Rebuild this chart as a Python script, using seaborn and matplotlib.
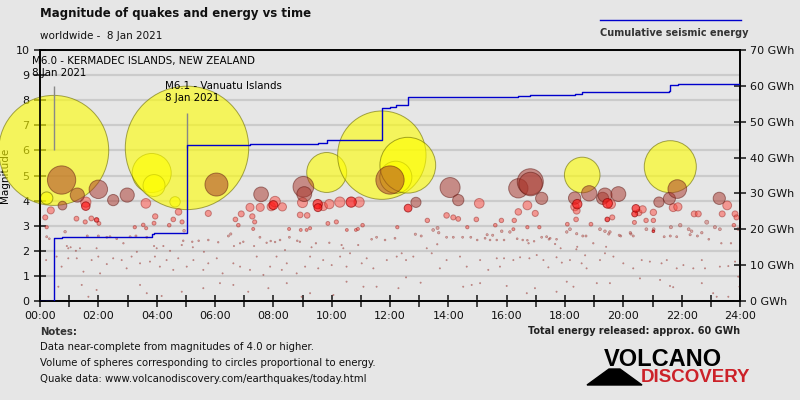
import numpy as np
import pandas as pd
import matplotlib
matplotlib.use('Agg')
import matplotlib.pyplot as plt
import seaborn as sns
from matplotlib.patches import Polygon

# quakes of 8 Jan 2021: (hour UTC, magnitude), grouped by marker colour
yellow = [(0.47, 6.0), (0.23, 4.1), (3.83, 5.1), (3.91, 4.6), (4.63, 3.95), (5.04, 6.1),
          (9.83, 5.12), (11.72, 5.81), (12.20, 4.93), (12.61, 5.41), (18.59, 5.02), (21.61, 5.35)]

brown = [(0.74, 4.82), (0.77, 3.80), (1.28, 4.22), (2.00, 4.45), (2.51, 4.02), (2.99, 4.22),
         (6.05, 4.64), (7.58, 4.25), (9.03, 4.55), (9.06, 4.26), (12.00, 4.82), (12.89, 3.93),
         (14.06, 4.52), (14.34, 4.02), (16.40, 4.49), (16.81, 4.75), (16.82, 4.66), (17.20, 4.09),
         (18.33, 4.10), (18.83, 4.29), (19.29, 4.09), (19.37, 4.22), (19.83, 4.26), (21.22, 3.94),
         (21.58, 4.08), (21.85, 4.46), (23.29, 4.09)]

red = [(1.57, 3.78), (1.94, 3.23), (8.00, 3.82), (9.52, 3.86), (9.53, 3.72),
       (10.67, 3.94), (12.62, 3.70), (18.42, 3.86), (19.45, 3.25), (19.46, 3.89),
       (20.39, 3.47), (20.43, 3.69), (21.03, 2.78)]

pink = [(0.18, 3.33), (0.23, 2.94), (0.37, 3.61), (1.25, 3.28), (1.55, 3.15), (1.57, 3.94),
        (1.76, 3.29), (2.02, 3.09), (3.25, 2.94), (3.54, 3.03), (3.63, 3.89), (3.64, 2.90),
        (3.91, 3.10), (3.95, 3.37), (4.43, 3.02), (4.57, 3.25), (4.75, 3.55), (4.87, 3.15),
        (5.77, 3.49), (6.70, 3.25), (6.80, 3.02), (6.90, 3.47), (7.20, 3.73), (7.28, 3.37),
        (7.31, 2.87), (7.36, 3.15), (7.55, 3.73), (7.93, 3.76), (8.06, 3.96), (8.31, 3.75),
        (8.54, 2.87), (8.92, 3.43), (8.94, 2.83), (9.00, 3.92), (9.14, 2.83), (9.16, 3.41),
        (9.26, 2.90), (9.71, 3.77), (9.87, 3.09), (9.92, 3.86), (10.16, 3.15), (10.28, 3.94),
        (10.52, 2.83), (10.83, 2.83), (10.90, 2.87), (10.94, 3.94), (11.06, 3.02), (12.25, 2.94),
        (13.28, 3.21), (13.94, 3.41), (14.17, 3.33), (14.34, 3.27), (14.65, 2.94), (14.96, 3.25),
        (15.06, 3.89), (15.61, 3.02), (15.82, 3.21), (16.23, 2.86), (16.26, 3.21), (16.40, 3.55),
        (16.71, 3.81), (16.71, 2.94), (16.98, 3.49), (17.12, 2.94), (18.08, 3.06), (18.34, 3.76),
        (18.38, 3.25), (18.40, 3.60), (18.89, 3.06), (19.57, 3.86), (19.62, 3.33), (20.38, 3.13),
        (20.53, 3.52), (20.66, 3.65), (20.78, 3.21), (21.03, 3.53), (21.03, 3.21), (21.71, 3.72),
        (21.87, 3.75), (22.43, 3.47), (22.57, 3.47), (23.39, 3.47), (23.56, 3.81), (23.79, 3.02),
        (23.83, 3.47), (23.88, 3.33)]

small = [(0.86, 2.76), (0.23, 2.56), (0.32, 2.48), (2.40, 2.56), (2.00, 2.59), (2.63, 2.48),
         (3.09, 2.56), (3.29, 2.59), (3.66, 2.54), (5.77, 2.43), (6.11, 2.34), (5.22, 2.36),
         (4.91, 2.40), (0.92, 2.19), (0.97, 2.10), (1.05, 2.14), (1.23, 2.00), (1.37, 2.10),
         (1.62, 2.59), (1.94, 2.10), (2.29, 2.54), (2.86, 2.30), (3.32, 1.96), (3.91, 2.19),
         (4.00, 2.10), (4.23, 2.19), (4.46, 2.00), (4.86, 2.23), (4.94, 2.80), (5.24, 2.14),
         (5.44, 2.40), (5.62, 1.96), (6.46, 2.59), (6.54, 2.67), (6.65, 2.19), (6.86, 2.30),
         (6.97, 2.36), (7.34, 2.19), (7.54, 2.54), (7.77, 2.32), (7.91, 2.39), (8.06, 2.35),
         (8.23, 2.43), (8.40, 2.03), (8.55, 2.54), (8.82, 2.40), (8.91, 2.36), (9.31, 2.14),
         (9.46, 2.30), (9.92, 2.32), (10.34, 2.23), (10.40, 2.10), (10.63, 1.90), (10.91, 2.23),
         (11.37, 2.46), (11.54, 2.54), (11.83, 2.43), (12.17, 2.50),
         (0.21, 1.63), (0.57, 1.77), (0.74, 1.37), (0.97, 1.70), (1.26, 1.70), (1.49, 1.17),
         (1.77, 1.63), (2.00, 1.77), (2.06, 1.10), (2.29, 1.47), (2.51, 1.70), (2.80, 1.63),
         (2.97, 1.30), (3.14, 1.77), (3.43, 1.50), (3.77, 1.57), (3.94, 1.77), (4.11, 1.37),
         (4.34, 1.63), (4.57, 1.24), (4.74, 1.70), (5.03, 1.37), (5.26, 1.63), (5.60, 1.24),
         (5.77, 1.50), (6.06, 1.70), (6.26, 1.10), (6.63, 1.50), (6.86, 1.37), (7.20, 1.24),
         (7.43, 1.77), (7.66, 1.04), (7.89, 1.37), (8.11, 1.77), (8.29, 1.24), (8.46, 1.50),
         (8.80, 1.10), (9.09, 1.37), (9.26, 1.77), (9.54, 1.30), (9.71, 1.63), (10.00, 1.43),
         (10.29, 1.77), (10.51, 1.37), (11.03, 1.50), (11.20, 1.70), (11.43, 1.30), (11.89, 1.63),
         (12.23, 1.77),
         (0.63, 0.57), (1.43, 0.64), (1.66, 0.17), (1.94, 0.44), (3.43, 0.64), (3.66, 0.31),
         (4.17, 0.20), (4.86, 0.37), (5.60, 0.51), (6.17, 0.71), (6.63, 0.64), (7.14, 0.37),
         (7.83, 0.51), (8.46, 0.71), (8.97, 0.17), (9.26, 0.31), (10.06, 0.24), (10.51, 0.77),
         (11.09, 0.57), (11.54, 0.57), (12.29, 0.51),
         (13.48, 2.83), (13.63, 2.91), (13.67, 2.72), (12.87, 2.66), (13.07, 2.59), (14.17, 2.54),
         (14.49, 2.54), (14.77, 2.54), (15.26, 2.50), (15.43, 2.43), (15.66, 2.43), (16.36, 2.48),
         (16.71, 2.42), (16.94, 2.38), (17.20, 2.54), (17.49, 2.50), (17.71, 2.46), (16.11, 2.75),
         (15.83, 2.78), (15.33, 2.64), (15.52, 2.62), (13.62, 2.26), (13.94, 2.54), (14.99, 2.43),
         (15.91, 2.43), (16.55, 2.43), (16.75, 2.30), (17.37, 2.56), (17.45, 2.46), (17.66, 2.27),
         (17.85, 2.10), (18.06, 2.75), (18.39, 2.06), (18.61, 2.59), (18.69, 1.82), (18.17, 2.86),
         (18.40, 2.68), (19.20, 2.86), (19.37, 2.78), (19.54, 2.75), (20.26, 2.67), (18.72, 2.59),
         (18.97, 2.30), (19.41, 2.16), (19.91, 2.59), (21.40, 2.56), (21.61, 2.59), (21.83, 2.56),
         (22.29, 2.64), (22.54, 2.59), (22.93, 2.46), (23.36, 2.30), (23.69, 2.30), (18.42, 2.16),
         (20.79, 2.86), (21.04, 2.86), (21.63, 2.94), (21.95, 3.02), (22.24, 2.86), (22.34, 2.78),
         (22.69, 2.72), (23.14, 2.94), (23.31, 2.86), (23.94, 2.87), (22.86, 3.14), (19.86, 2.62),
         (20.24, 2.72), (20.34, 2.59), (19.50, 2.67),
         (12.40, 1.90), (12.55, 1.63), (12.80, 1.77), (13.26, 2.10), (13.43, 1.90), (13.71, 1.30),
         (13.94, 1.63), (14.40, 1.77), (14.63, 1.37), (15.09, 1.63), (15.37, 1.24), (15.66, 1.70),
         (15.77, 1.37), (15.91, 1.70), (16.23, 1.63), (16.46, 1.74), (16.78, 1.70), (17.03, 1.83),
         (17.26, 1.63), (17.43, 1.34), (17.71, 1.74), (17.89, 1.53), (18.17, 1.63), (18.57, 1.50),
         (18.74, 1.30), (19.20, 1.63), (19.37, 1.90), (19.66, 1.77), (20.00, 1.50), (20.34, 1.30),
         (20.63, 1.63), (20.91, 1.57), (21.31, 1.50), (21.49, 1.63), (21.83, 1.30), (22.06, 1.43),
         (22.40, 1.30), (22.69, 1.63), (22.80, 1.30), (23.31, 1.37), (23.60, 1.39), (23.83, 1.57),
         (23.94, 0.97),
         (12.55, 0.94), (13.05, 0.73), (14.51, 0.57), (14.80, 0.64), (15.09, 0.71), (16.00, 0.60),
         (16.69, 0.31), (16.97, 0.51), (17.71, 0.37), (18.06, 0.77), (18.29, 0.57), (19.09, 0.71),
         (19.54, 0.71), (20.57, 0.90), (21.26, 0.84), (21.60, 0.60), (21.71, 0.55), (22.69, 0.71),
         (23.08, 0.31), (23.20, 0.17), (23.60, 0.17), (23.98, 0.57)]

hour_ticks = list(range(0, 25, 2))
hour_labels = ['%02d:00' % h for h in hour_ticks]
energy_ticks = list(range(0, 71, 10))

# marker styles per group: face, alpha, edge, edge width
styles = {
    'yellow': ('#ffff00', 0.6, '#6b6b00', 0.7),
    'small': ('#c86a64', 0.5, '#8a2c28', 0.45),
    'pink': ('#ff4a40', 0.5, '#9a2a26', 0.7),
    'brown': ('#a83228', 0.5, '#5c1510', 0.7),
    'red': ('#ff1010', 0.65, '#8a0000', 0.7),
}

frames = []
for name, pts in [('yellow', yellow), ('small', small), ('pink', pink),
                  ('brown', brown), ('red', red)]:
    d = pd.DataFrame(pts, columns=['hour', 'mag'])
    d['group'] = name
    frames.append(d)
df = pd.concat(frames, ignore_index=True)

# circle radius (px) ~ energy^(1/3), sphere volume proportional to energy
df['r_px'] = np.maximum(55 * 10 ** (0.5 * (df['mag'] - 6)), 0.65)
df['s'] = (2 * df['r_px'] * 0.72) ** 2

# cumulative energy, GWh
df['energy'] = 17.4 * 10 ** (1.5 * (df['mag'] - 6))
en = df.sort_values('hour')
cum_t = np.concatenate([[0], en['hour'].to_numpy(), [24]])
cum_e = np.concatenate([[0], en['energy'].cumsum().to_numpy(), [en['energy'].sum()]])

bg = '#e6e6e6'
plt.rcParams['font.family'] = ['DejaVu Sans']
fig = plt.figure(figsize=(8, 4), dpi=100, facecolor=bg)
ax = fig.add_axes([0.05, 0.2475, 0.875, 0.6275])
ax.set_facecolor(bg)

for name in ['yellow', 'small', 'pink', 'brown', 'red']:
    sub = df[df['group'] == name]
    fc, a, ec, lw = styles[name]
    sns.scatterplot(data=sub, x='hour', y='mag', s=sub['s'].to_numpy(), color=fc, alpha=a,
                    edgecolor=ec, linewidth=lw, ax=ax, legend=False, clip_on=False, zorder=3)

ax.set_xlim(0, 24)
ax.set_ylim(0, 10)
ax.set_yticks(range(0, 11))
ax.set_xticks(hour_ticks)
ax.set_xticklabels(hour_labels)
ax.set_xticks(range(0, 25), minor=True)
ax.grid(axis='y', color='#cbcbcb', lw=1.6, zorder=0)
ax.set_axisbelow(True)
ax.tick_params(axis='both', which='both', direction='inout', length=8, width=1.3,
               color='#333333', labelsize=8, labelcolor='#111111')
ax.set_xlabel('')
ax.set_ylabel('Magnitude', fontsize=7.5, labelpad=4)
for sp in ax.spines.values():
    sp.set_color('black')
    sp.set_linewidth(1.2)

ax2 = ax.twinx()
sns.lineplot(x=cum_t, y=cum_e, drawstyle='steps-post', color='#0000cc', lw=1,
             estimator=None, sort=False, ax=ax2, zorder=4)
ax2.set_ylim(0, 70)
ax2.set_yticks(energy_ticks)
ax2.set_yticklabels(['%d GWh' % v for v in energy_ticks])
ax2.tick_params(axis='y', direction='inout', length=8, width=1.3, color='#333333',
                labelsize=8, labelcolor='#111111')
for sp in ax2.spines.values():
    sp.set_color('black')
    sp.set_linewidth(1.2)

# labels for the two strongest quakes
big = df[df['group'] == 'yellow']
q1 = big[big['mag'] == 6.0].iloc[0]
q2 = big[big['mag'] == 6.1].iloc[0]
ax.text(-0.27, 9.75, 'M6.0 - KERMADEC ISLANDS, NEW ZEALAND\n8 Jan 2021', fontsize=7.4,
        va='top', ha='left', linespacing=1.25, zorder=5)
ax.vlines(q1['hour'], q1['mag'], 8.55, color='#888888', lw=1, zorder=5)
ax.text(4.3, 8.75, 'M6.1 - Vanuatu Islands\n8 Jan 2021', fontsize=7.4,
        va='top', ha='left', linespacing=1.25, zorder=5)
ax.vlines(q2['hour'], q2['mag'], 7.5, color='#888888', lw=1, zorder=5)

fig.text(40 / 800, 1 - 13 / 400, 'Magnitude of quakes and energy vs time', fontsize=8.5,
         fontweight='bold', va='center', color='#111111')
fig.text(40 / 800, 1 - 36 / 400, 'worldwide -  8 Jan 2021', fontsize=7.5, va='center',
         color='#111111')
fig.add_artist(plt.Line2D([600 / 800, 741 / 800], [1 - 20 / 400, 1 - 20 / 400],
                          color='#0000cc', lw=1))
fig.text(600 / 800, 1 - 33 / 400, 'Cumulative seismic energy', fontsize=7,
         fontweight='bold', va='center', color='#333333')

fig.text(40 / 800, 1 - 332 / 400, 'Notes:', fontsize=7.3, fontweight='bold', va='center',
         color='#333333')
notes = ['Data near-complete from magnitudes of 4.0 or higher.',
         'Volume of spheres corresponding to circles proportional to energy.',
         'Quake data: www.volcanodiscovery.com/earthquakes/today.html']
for i, line in enumerate(notes):
    fig.text(40 / 800, 1 - (347 + 16 * i) / 400, line, fontsize=7.3, va='center',
             color='#111111')
fig.text(740 / 800, 1 - 331 / 400, 'Total energy released: approx. 60 GWh', fontsize=6.9,
         fontweight='bold', ha='right', va='center', color='#222222')

# logo
fig.text(604 / 800, 1 - 359 / 400, 'VOLCANO', fontsize=17, fontweight='bold',
         family='Liberation Sans', va='center', color='black')
fig.text(641 / 800, 1 - 377 / 400, 'DISCOVERY', fontsize=13.5, fontweight='bold',
         family='Liberation Sans', va='center', color='#cc2229')
fig.add_artist(Polygon([(587 / 800, 1 - 385 / 400), (642 / 800, 1 - 385 / 400),
                        (620 / 800, 1 - 369 / 400), (609 / 800, 1 - 369 / 400)],
                       closed=True, color='black', transform=fig.transFigure))

fig.savefig('out.png', dpi=100, facecolor=bg)
